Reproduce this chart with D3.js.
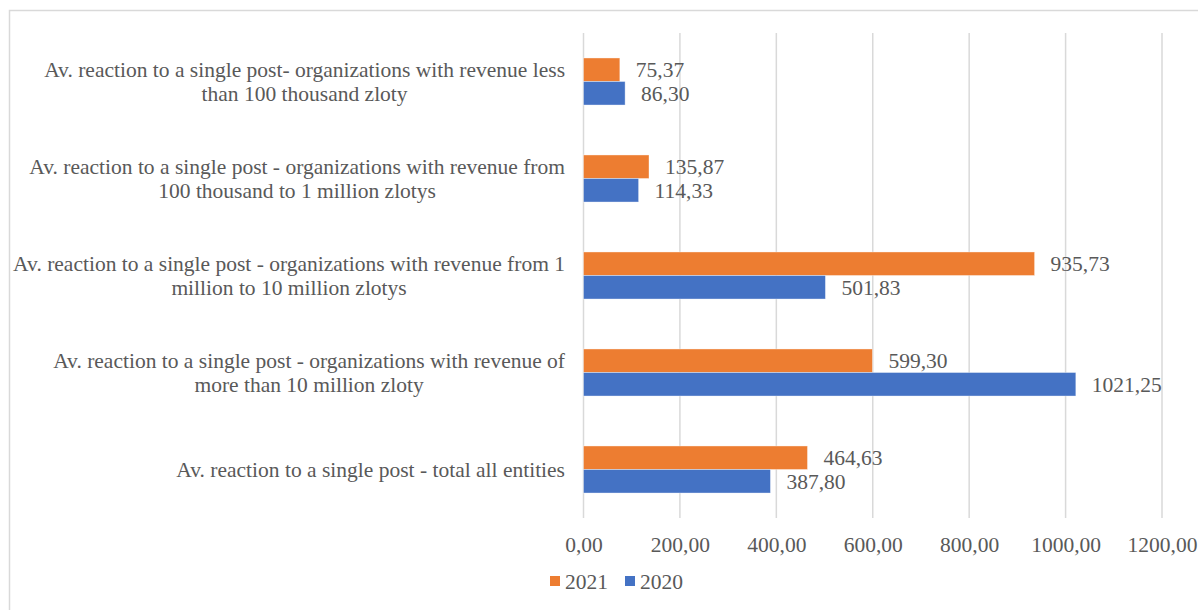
<!DOCTYPE html>
<html>
<head>
<meta charset="utf-8">
<script src="https://cdn.jsdelivr.net/npm/d3@7"></script>
<style>
  html, body { margin: 0; padding: 0; background: #fff; }
  svg text { font-family: "Liberation Serif", "Times New Roman", serif; fill: #595959; }
</style>
</head>
<body>
<svg id="chart" width="1198" height="610"></svg>
<script>
//
// Data
//
var categories = [
    "Av. reaction to a single post- organizations with revenue less\nthan 100 thousand zloty",
    "Av. reaction to a single post - organizations with revenue from\n100 thousand to 1 million zlotys",
    "Av. reaction to a single post - organizations with revenue from 1\nmillion to 10 million zlotys",
    "Av. reaction to a single post - organizations with revenue of\nmore than 10 million zloty",
    "Av. reaction to a single post - total all entities"
];
var series_names = ["2021", "2020"];
var values_2021 = [75.37, 135.87, 935.73, 599.30, 464.63];
var values_2020 = [86.30, 114.33, 501.83, 1021.25, 387.80];
var tick_values = [0, 200, 400, 600, 800, 1000, 1200];

var colors = { "2021": "#ED7D31", "2020": "#4472C4" };
var fmt = function (v) { return d3.format(".2f")(v).replace(".", ","); };

//
// Layout
//
var svg = d3.select("#chart");
var font_size = 21.5;

svg.append("rect")
    .attr("x", 9.5).attr("y", 10.5)
    .attr("width", 1300).attr("height", 700)
    .attr("fill", "none")
    .attr("stroke", "#d9d9d9")
    .attr("stroke-width", 1.5);

var x = d3.scaleLinear().domain([0, 1200]).range([583.5, 1162]);
var y = d3.scaleBand().domain(d3.range(categories.length)).range([33, 518])
    .paddingInner(0.515).paddingOuter(0.2575);
var y_inner = d3.scaleBand().domain(series_names).range([0, y.bandwidth()]);

// gridlines
svg.append("g")
    .selectAll("line")
    .data(tick_values)
    .enter()
    .append("line")
    .attr("x1", function (d) { return x(d); })
    .attr("x2", function (d) { return x(d); })
    .attr("y1", 33).attr("y2", 518)
    .attr("stroke", "#d9d9d9")
    .attr("stroke-width", 1.5);

// x axis labels
var xAxis = d3.axisBottom(x).tickValues(tick_values).tickFormat(fmt).tickSize(0).tickPadding(0);
var ax = svg.append("g").attr("transform", "translate(0,544)").call(xAxis);
ax.select(".domain").remove();
ax.selectAll("text")
    .attr("y", 0).attr("dy", "0.35em")
    .style("font-family", "Liberation Serif")
    .style("font-size", font_size + "px")
    .attr("fill", "#595959");

// bars
var rows = categories.map(function (c, i) {
    return [
        { cat: i, name: "2021", value: values_2021[i] },
        { cat: i, name: "2020", value: values_2020[i] }
    ];
});

var groups = svg.append("g")
    .selectAll("g")
    .data(rows)
    .enter()
    .append("g")
    .attr("transform", function (d, i) { return "translate(0," + y(i) + ")"; });

groups.selectAll("rect")
    .data(function (d) { return d; })
    .enter()
    .append("rect")
    .attr("x", x(0))
    .attr("y", function (d) { return y_inner(d.name); })
    .attr("width", function (d) { return x(d.value) - x(0); })
    .attr("height", y_inner.bandwidth())
    .attr("fill", function (d) { return colors[d.name]; })
    .attr("stroke", "#fff")
    .attr("stroke-opacity", 0.5)
    .attr("stroke-width", 0.75);

groups.selectAll("text")
    .data(function (d) { return d; })
    .enter()
    .append("text")
    .attr("x", function (d) { return x(d.value) + 16; })
    .attr("y", function (d) { return y_inner(d.name) + y_inner.bandwidth() / 2; })
    .attr("dy", "0.35em")
    .style("font-size", font_size + "px")
    .text(function (d) { return fmt(d.value); });

// category labels, right aligned block, centered lines
var label_right = 565;
var line_h = 24.5;
categories.forEach(function (c, i) {
    var lines = c.split("\n");
    var cy = y(i) + y.bandwidth() / 2;
    var t = svg.append("text")
        .style("font-size", font_size + "px")
        .attr("text-anchor", "middle");
    var spans = lines.map(function (ln, j) {
        return t.append("tspan")
            .attr("y", cy + (j - (lines.length - 1) / 2) * line_h)
            .attr("dy", "0.35em")
            .text(ln);
    });
    var w = d3.max(spans, function (s) { return s.node().getComputedTextLength(); });
    spans.forEach(function (s) { s.attr("x", label_right - w / 2); });
});

// legend
var legend = svg.append("g").attr("transform", "translate(550,581)");
var lx = 0;
series_names.forEach(function (name) {
    legend.append("rect")
        .attr("x", lx).attr("y", -5)
        .attr("width", 10).attr("height", 10)
        .attr("fill", colors[name]);
    var t = legend.append("text")
        .attr("x", lx + 15).attr("dy", "0.35em")
        .style("font-size", font_size + "px")
        .text(name);
    lx += 15 + t.node().getComputedTextLength() + 17;
});
</script>
</body>
</html>
